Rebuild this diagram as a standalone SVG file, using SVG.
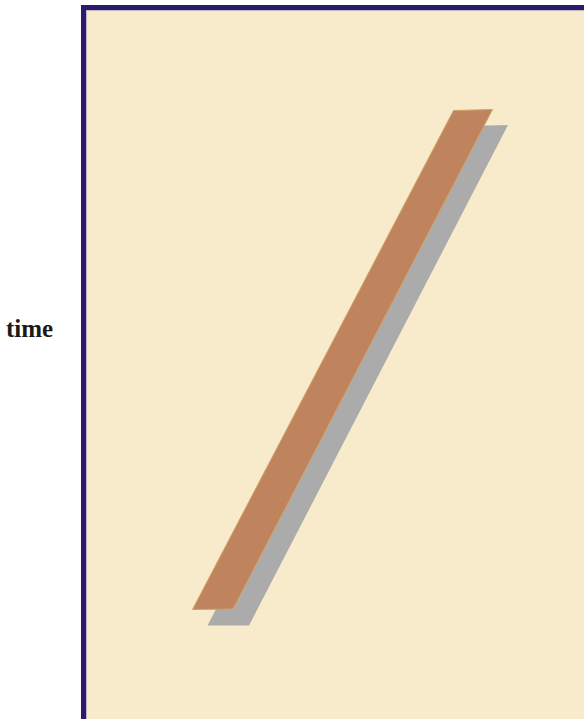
<svg xmlns="http://www.w3.org/2000/svg" width="584" height="719" viewBox="0 0 584 719">
<style>
.frame{fill:#F7EBCB;stroke:#2B1A6E;stroke-width:5}
.label{font-family:"Liberation Serif","Times New Roman",serif;font-weight:bold;font-size:25px;fill:#1a1a1a}
</style>
<rect width="584" height="719" fill="#FFFFFF"/>
<g id="frame">
<rect class="frame" x="83.5" y="7.5" width="530" height="740"/>
<rect x="86.5" y="10.5" width="530" height="740" fill="none" stroke="#9C94B0" stroke-width="1" opacity="0.6"/>
</g>
<g id="shadow">
<polygon points="468.5,126 508,125 249,625.5 207.5,625.5" fill="#ABABAB"/>
</g>
<g id="bar">
<polygon points="453.5,110.5 492.5,109.5 233,609 192.5,609.5" fill="#BF845E" stroke="#D2A266" stroke-width="1"/>
</g>
<g id="time-label">
<text class="label" x="6" y="337">time</text>
</g>
</svg>
